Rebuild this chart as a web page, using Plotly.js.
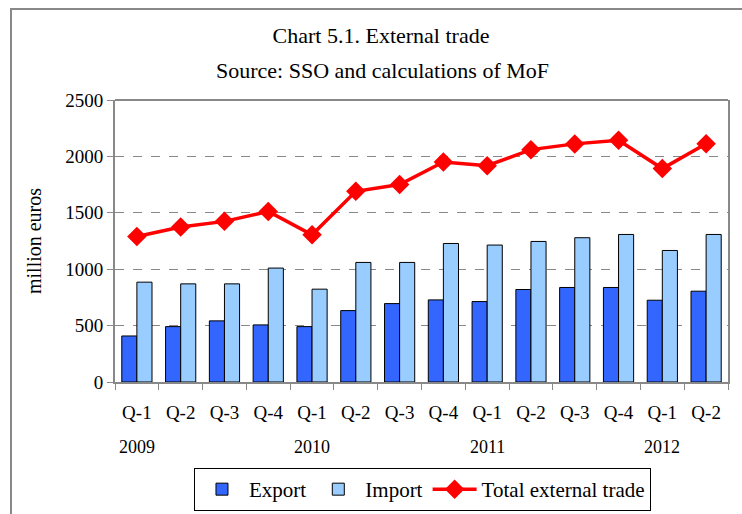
<!DOCTYPE html>
<html>
<head>
<meta charset="utf-8">
<script src="https://cdn.plot.ly/plotly-3.0.1.min.js"></script>
<style>
  body { margin: 0; background: #fff; }
  #chart { width: 742px; height: 514px; }
</style>
</head>
<body>
<div id="chart"></div>
<script>
// quarters 2009 Q-1 .. 2012 Q-2
var periods = ["2009 Q-1","2009 Q-2","2009 Q-3","2009 Q-4",
               "2010 Q-1","2010 Q-2","2010 Q-3","2010 Q-4",
               "2011 Q-1","2011 Q-2","2011 Q-3","2011 Q-4",
               "2012 Q-1","2012 Q-2"]
var quarterLabels = ["Q-1","Q-2","Q-3","Q-4","Q-1","Q-2","Q-3","Q-4",
                     "Q-1","Q-2","Q-3","Q-4","Q-1","Q-2"]
var years = ["2009","2010","2011","2012"]
var yearAt = ["2009 Q-1","2010 Q-1","2011 Q-1","2012 Q-1"]

// million euros
var exportVals = [408, 491, 542, 506, 491, 633, 695, 728, 713, 820, 838, 838, 725, 805]
var importVals = [885, 870, 870, 1010, 823, 1060, 1060, 1228, 1214, 1246, 1279, 1308, 1166, 1308]
var totalVals  = [1290, 1374, 1424, 1512, 1305, 1690, 1750, 1951, 1918, 2060, 2111, 2143, 1892, 2113]

var FONT = "Liberation Serif, Times New Roman, serif"

var traces = [
  {
    type: "bar", name: "Export", x: periods, y: exportVals,
    marker: {color: "#3366ff", line: {color: "#000", width: 1}}
  },
  {
    type: "bar", name: "Import", x: periods, y: importVals,
    marker: {color: "#99ccff", line: {color: "#000", width: 1}}
  },
  {
    type: "scatter", mode: "lines+markers", name: "Total external trade",
    x: periods, y: totalVals,
    line: {color: "#ff0000", width: 3.5},
    marker: {color: "#ff0000", symbol: "diamond", size: 15}
  }
]

// year labels under the Q-1 ticks
var annotations = years.map(function(yr, i){
  return {
    text: yr, x: yearAt[i], xref: "x", y: -0.232, yref: "paper",
    yanchor: "middle", showarrow: false,
    font: {family: FONT, size: 18, color: "#000"}
  }
})
annotations.push({
  text: "Source: SSO and calculations of MoF",
  x: 0.4356, xref: "paper", y: 1.106, yref: "paper", yanchor: "middle",
  showarrow: false, font: {family: FONT, size: 22, color: "#000"}
})

var layout = {
  width: 742, height: 514,
  margin: {l: 115, r: 14, t: 100, b: 132, autoexpand: false},
  paper_bgcolor: "#fff", plot_bgcolor: "#fff",
  font: {family: FONT, size: 18, color: "#000"},
  title: {
    text: "Chart 5.1. External trade",
    x: 0.5135, xref: "container", xanchor: "center",
    y: 1 - 35/514, yref: "container", yanchor: "middle",
    font: {family: FONT, size: 22, color: "#000"}
  },
  barmode: "group", bargap: 0.31, bargroupgap: 0,
  showlegend: true,
  legend: {
    orientation: "h", x: 0.5016, xanchor: "center", y: -0.305, yanchor: "top",
    bordercolor: "#000", borderwidth: 1, font: {family: FONT, size: 21},
    traceorder: "normal", itemwidth: 44
  },
  xaxis: {
    type: "category", range: [-0.5, 13.5],
    tickvals: periods, ticktext: quarterLabels,
    tickson: "boundaries", ticks: "outside", ticklen: 6, tickcolor: "#888",
    ticklabelstandoff: 12,
    showline: true, linecolor: "#888", linewidth: 2, mirror: false,
    showgrid: false, tickfont: {size: 19}
  },
  yaxis: {
    range: [0, 2500], dtick: 500, tickformat: "d",
    ticks: "outside", ticklen: 6, tickcolor: "#888",
    showline: true, linecolor: "#888", linewidth: 2, mirror: true,
    showgrid: true, gridcolor: "#888", griddash: "dash", gridwidth: 1,
    zeroline: false, tickfont: {size: 19},
    title: {text: "million euros", standoff: 18, font: {size: 20}}
  },
  annotations: annotations,
  shapes: [
    // outer chart frame (open to the right/bottom edges as in the picture)
    {type: "rect", xref: "paper", yref: "paper",
     x0: (11 - 115)/613, x1: (760 - 115)/613,
     y0: (382 - 530)/282, y1: (382 - 9)/282,
     line: {color: "#888", width: 2}, layer: "below"},
    // top border of plot area
    {type: "line", xref: "paper", yref: "paper", x0: 0, x1: 1, y0: 1, y1: 1,
     line: {color: "#888", width: 2}}
  ]
}

Plotly.newPlot("chart", traces, layout, {staticPlot: true})
</script>
</body>
</html>
